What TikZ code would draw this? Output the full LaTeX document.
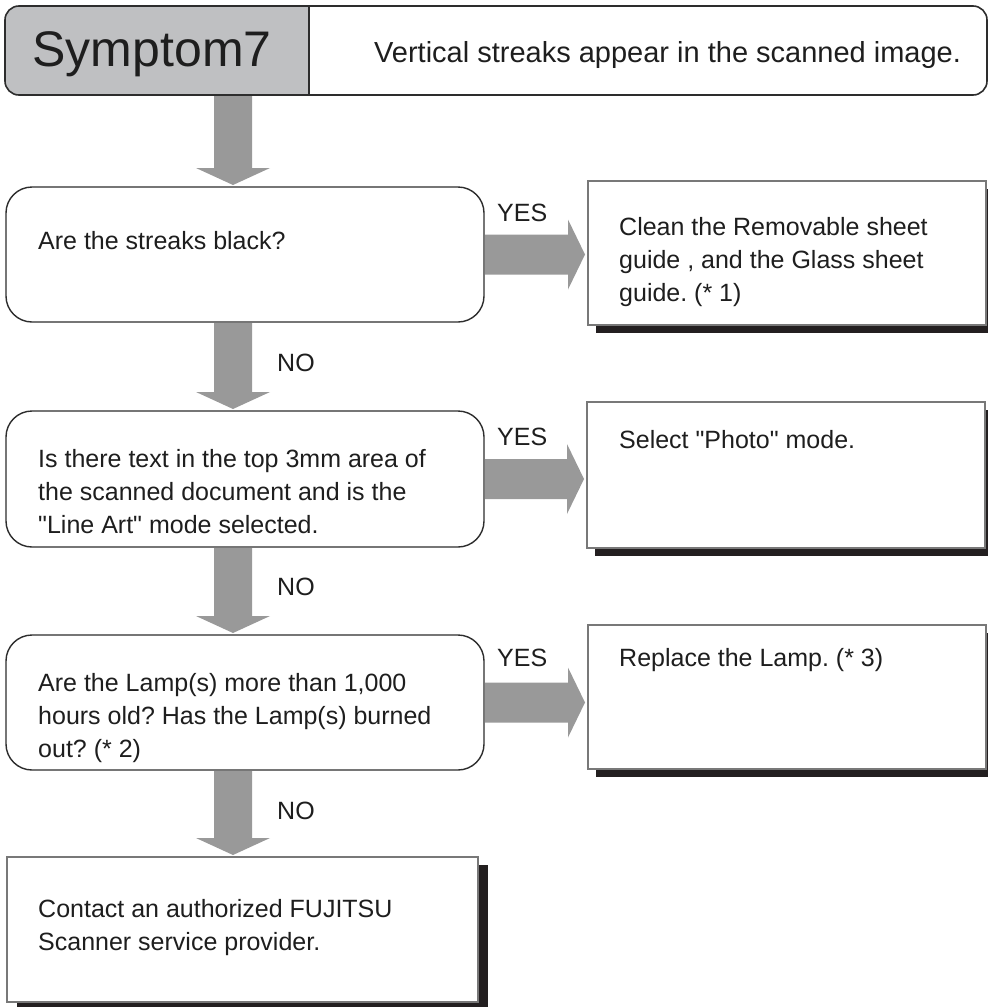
\documentclass[tikz,border=0pt]{standalone}
\usepackage{fontspec}
\setmainfont{Liberation Sans}[Ligatures=TeXOff]
\usetikzlibrary{calc}
\definecolor{arrowgray}{RGB}{153,153,153}
\definecolor{hdrgray}{RGB}{191,192,194}
\definecolor{shadowblack}{RGB}{35,31,32}
\definecolor{linedark}{RGB}{45,45,45}
\definecolor{linegray}{RGB}{120,120,120}
\definecolor{txt}{RGB}{30,30,30}
% block arrow pointing down: #1 = x, #2 = upper anchor, #3 = lower anchor
\newcommand{\bdown}[3]{%
  \fill[arrowgray] let \p1=(#2), \p2=(#3) in
    (#1pt-19pt,\y1-1pt) -- (#1pt+19pt,\y1-1pt) -- (#1pt+19pt,\y2+19pt) -- (#1pt+37pt,\y2+19pt)
    -- (#1pt,\y2+2pt) -- (#1pt-37pt,\y2+19pt) -- (#1pt-19pt,\y2+19pt) -- cycle;}
% block arrow pointing right from node #1 to node #2
\newcommand{\bright}[2]{%
  \fill[arrowgray] let \p1=(#1.east), \p2=(#2.west) in
    (\x1+1pt,\y1+20pt) -- (\x2-20pt,\y1+20pt) -- (\x2-20pt,\y1+35pt) -- (\x2-3pt,\y1)
    -- (\x2-20pt,\y1-35pt) -- (\x2-20pt,\y1-20pt) -- (\x1+1pt,\y1-20pt) -- cycle;}
\frenchspacing
\begin{document}
\begin{tikzpicture}[x=1pt,y=-1pt,
  decbox/.style={draw=linedark, line width=1.4pt, rounded corners=26pt, fill=white, inner sep=0pt, outer sep=0pt, anchor=north west},
  body/.style={font=\fontsize{25}{33}\selectfont, inner sep=0pt, anchor=base west, align=left, text=txt},
  lbl/.style={font=\fontsize{25}{30}\selectfont, inner sep=0pt, anchor=base west, text=txt},
]
\useasboundingbox[fill=white] (0,0) rectangle (988,1007);

% ---------- header ----------
\node[fill=white, inner sep=0pt, outer sep=0pt, minimum width=982pt, minimum height=89pt, anchor=north west] (h) at (5,6) {};
\begin{scope}
  \clip (0,0) rectangle (309,100);
  \fill[hdrgray, rounded corners=14pt] (h.north west) rectangle (h.south east);
\end{scope}
\draw[linedark, line width=1.6pt, rounded corners=14pt] (h.north west) rectangle (h.south east);
\coordinate (hdivtop) at (309,6);
\coordinate (hdivbot) at (309,95);
\draw[linedark, line width=1.2pt] (hdivtop) -- (hdivbot);
\node[font=\fontsize{50}{54}\selectfont, inner sep=0pt, anchor=base, text=txt] (htitle) at (152,66) {Symptom7};
\node[font=\fontsize{29}{34}\selectfont, inner sep=0pt, anchor=base west, text=txt] (hdesc) at (374,62) {Vertical streaks appear in the scanned image.};

% ---------- shadows ----------
\node[inner sep=0pt, outer sep=0pt, minimum width=398pt, minimum height=144pt, anchor=north west] (a1) at (588,181) {};
\node[inner sep=0pt, outer sep=0pt, minimum width=398pt, minimum height=146pt, anchor=north west] (a2) at (587,402) {};
\node[inner sep=0pt, outer sep=0pt, minimum width=398pt, minimum height=144pt, anchor=north west] (a3) at (588,625) {};
\node[inner sep=0pt, outer sep=0pt, minimum width=471pt, minimum height=145pt, anchor=north west] (f) at (7,857) {};
\foreach \b in {a1,a2,a3}{
  \fill[shadowblack] ([shift={(8,8)}]\b.north west) rectangle ([shift={(8,8)}]\b.south east);
}
\fill[shadowblack] ([shift={(10,8)}]f.north west) rectangle ([shift={(10,8)}]f.south east);

% ---------- boxes ----------
\node[decbox, minimum width=478pt, minimum height=135pt] (d1) at (6,187) {};
\node[decbox, minimum width=478pt, minimum height=136pt] (d2) at (6,411) {};
\node[decbox, minimum width=478pt, minimum height=135pt] (d3) at (6,635) {};
\draw[linegray, line width=1.2pt, fill=white] (a1.north west) rectangle (a1.south east);
\draw[linegray, line width=1.2pt, fill=white] (a2.north west) rectangle (a2.south east);
\draw[linegray, line width=1.2pt, fill=white] (a3.north west) rectangle (a3.south east);
\draw[linegray, line width=1.2pt, fill=white] (f.north west) rectangle (f.south east);

% ---------- arrows ----------
\bdown{233}{h.south}{d1.north}
\bdown{233}{d1.south}{d2.north}
\bdown{233}{d2.south}{d3.north}
\bdown{233}{d3.south}{f.north}
\bright{d1}{a1}
\bright{d2}{a2}
\bright{d3}{a3}

% ---------- labels ----------
\node[lbl] (yes1) at (497,221) {YES};
\node[lbl] (yes2) at (497,445) {YES};
\node[lbl] (yes3) at (497,666) {YES};
\node[lbl] (no1) at (277,371) {NO};
\node[lbl] (no2) at (277,595) {NO};
\node[lbl] (no3) at (277,819) {NO};

% ---------- texts (base = baseline of last line) ----------
\node[body] (t1) at (38,249) {Are the streaks black?};
\node[body] (t2) at (38,533) {Is there text in the top 3mm area of\\the scanned document and is the\\"Line Art" mode selected.};
\node[body] (t3) at (38,757) {Are the Lamp(s) more than 1,000\\hours old? Has the Lamp(s) burned\\out? (* 2)};
\node[body] (ta1) at (619,301) {Clean the Removable sheet\\guide , and the Glass sheet\\guide. (* 1)};
\node[body] (ta2) at (619,448) {Select "Photo" mode.};
\node[body] (ta3) at (619,666) {Replace the Lamp. (* 3)};
\node[body] (tf) at (38,950) {Contact an authorized FUJITSU\\Scanner service provider.};
\end{tikzpicture}
\end{document}
